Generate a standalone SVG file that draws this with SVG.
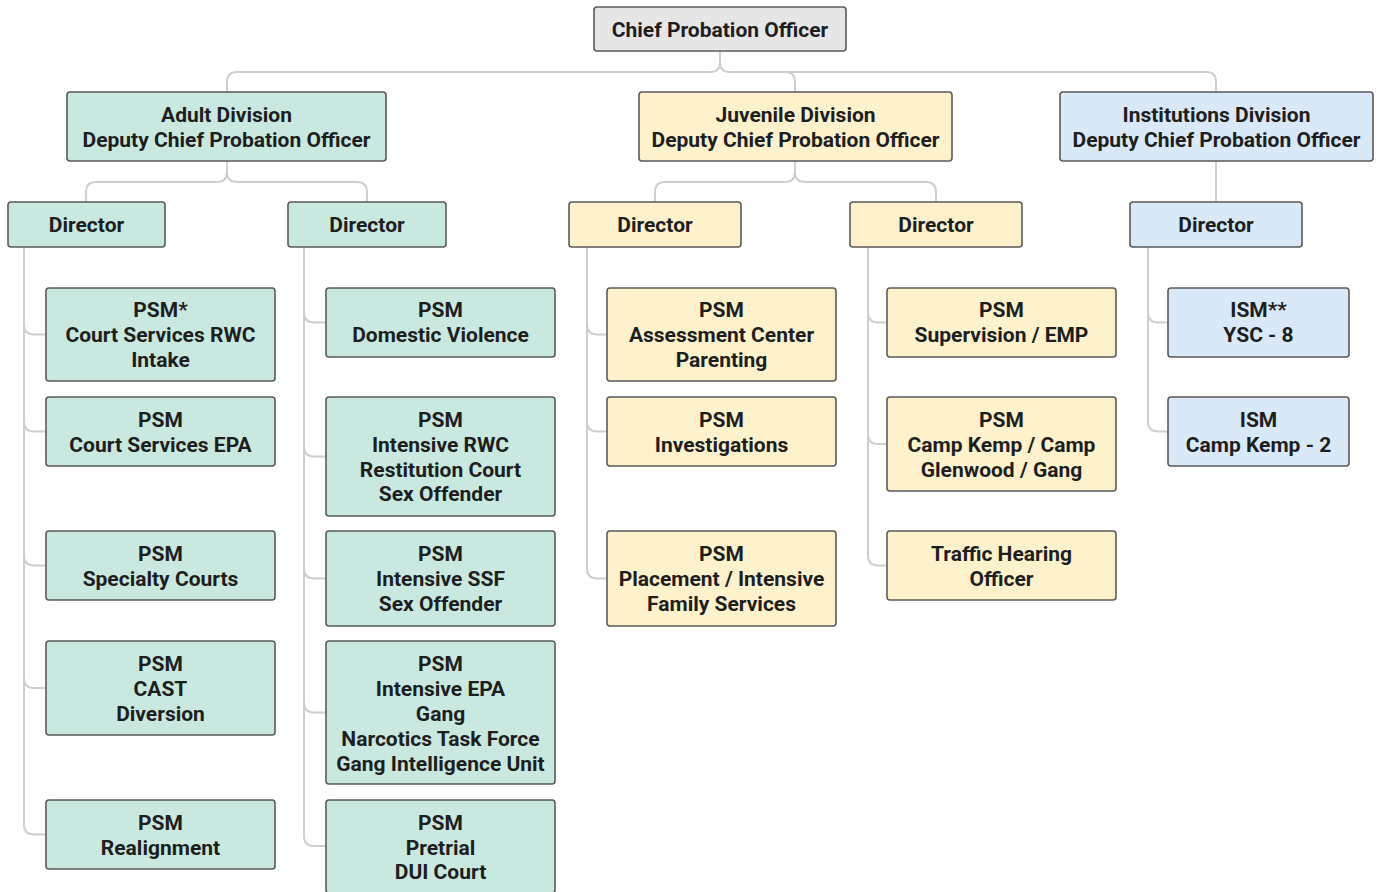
<svg xmlns="http://www.w3.org/2000/svg" width="1378" height="892" viewBox="0 0 1378 892">
<style>
.n rect{stroke:#5a5a5a;stroke-width:1.6}
.g rect{fill:#e6e6e6}
.a rect{fill:#c9e9e0}
.j rect{fill:#fdf2cc}
.i rect{fill:#d9e9f8}
text{font-family:Roboto,"Liberation Sans",sans-serif;font-weight:700;font-size:21px;fill:#1e1e1e;text-anchor:middle}
#connectors path{fill:none;stroke:#cfcfcf;stroke-width:2}
</style>
<rect width="1378" height="892" fill="#fff"/>
<g id="connectors">
<path d="M720 51V62Q720 72 710 72H237Q227 72 227 82V92"/>
<path d="M720 62Q720 72 730 72H1206Q1216 72 1216 82V92"/>
<path d="M785 72Q795 72 795 82V92"/>
<path d="M227 161V172Q227 182 217 182H96Q86 182 86 192V202"/>
<path d="M227 172Q227 182 237 182H357Q367 182 367 192V202"/>
<path d="M795 161V172Q795 182 785 182H665Q655 182 655 192V202"/>
<path d="M795 172Q795 182 805 182H926Q936 182 936 192V202"/>
<path d="M1216 161V202"/>
<path d="M24 247V824.5Q24 834.5 34 834.5H46"/>
<path d="M24 324.5Q24 334.5 34 334.5H46M24 421.5Q24 431.5 34 431.5H46M24 555.5Q24 565.5 34 565.5H46M24 678Q24 688 34 688H46"/>
<path d="M304 247V836Q304 846 314 846H326"/>
<path d="M304 312.5Q304 322.5 314 322.5H326M304 446.5Q304 456.5 314 456.5H326M304 568.5Q304 578.5 314 578.5H326M304 702.5Q304 712.5 314 712.5H326"/>
<path d="M587 247V568.5Q587 578.5 597 578.5H607"/>
<path d="M587 324.5Q587 334.5 597 334.5H607M587 421.5Q587 431.5 597 431.5H607"/>
<path d="M868 247V555.5Q868 565.5 878 565.5H887"/>
<path d="M868 312.5Q868 322.5 878 322.5H887M868 434Q868 444 878 444H887"/>
<path d="M1148 247V421.5Q1148 431.5 1158 431.5H1168"/>
<path d="M1148 312.5Q1148 322.5 1158 322.5H1168"/>
</g>
<g id="chief" class="n g"><rect x="594" y="7" width="252" height="44" rx="3"/><text x="720" y="36.5">Chief Probation Officer</text></g>
<g id="adult-div" class="n a"><rect x="67" y="92" width="319" height="69" rx="3"/><text x="226.5" y="121.5">Adult Division</text><text x="226.5" y="146.5">Deputy Chief Probation Officer</text></g>
<g id="juv-div" class="n j"><rect x="639" y="92" width="313" height="69" rx="3"/><text x="795.5" y="121.5">Juvenile Division</text><text x="795.5" y="146.5">Deputy Chief Probation Officer</text></g>
<g id="inst-div" class="n i"><rect x="1060" y="92" width="313" height="69" rx="3"/><text x="1216.5" y="121.5">Institutions Division</text><text x="1216.5" y="146.5">Deputy Chief Probation Officer</text></g>
<g id="adult-dir1" class="n a"><rect x="8" y="202" width="157" height="45" rx="3"/><text x="86.5" y="231.5">Director</text></g>
<g id="adult-dir2" class="n a"><rect x="288" y="202" width="158" height="45" rx="3"/><text x="367" y="231.5">Director</text></g>
<g id="juv-dir1" class="n j"><rect x="569" y="202" width="172" height="45" rx="3"/><text x="655" y="231.5">Director</text></g>
<g id="juv-dir2" class="n j"><rect x="850" y="202" width="172" height="45" rx="3"/><text x="936" y="231.5">Director</text></g>
<g id="inst-dir" class="n i"><rect x="1130" y="202" width="172" height="45" rx="3"/><text x="1216" y="231.5">Director</text></g>
<g id="a1-1" class="n a"><rect x="46" y="288" width="229" height="93" rx="3"/><text x="160.5" y="316.5">PSM*</text><text x="160.5" y="341.5">Court Services RWC</text><text x="160.5" y="366.5">Intake</text></g>
<g id="a1-2" class="n a"><rect x="46" y="397" width="229" height="69" rx="3"/><text x="160.5" y="426.5">PSM</text><text x="160.5" y="451.5">Court Services EPA</text></g>
<g id="a1-3" class="n a"><rect x="46" y="531" width="229" height="69" rx="3"/><text x="160.5" y="560.5">PSM</text><text x="160.5" y="585.5">Specialty Courts</text></g>
<g id="a1-4" class="n a"><rect x="46" y="641" width="229" height="94" rx="3"/><text x="160.5" y="670.5">PSM</text><text x="160.5" y="695.5">CAST</text><text x="160.5" y="720.5">Diversion</text></g>
<g id="a1-5" class="n a"><rect x="46" y="800" width="229" height="69" rx="3"/><text x="160.5" y="829.5">PSM</text><text x="160.5" y="854.5">Realignment</text></g>
<g id="a2-1" class="n a"><rect x="326" y="288" width="229" height="69" rx="3"/><text x="440.5" y="316.5">PSM</text><text x="440.5" y="341.5">Domestic Violence</text></g>
<g id="a2-2" class="n a"><rect x="326" y="397" width="229" height="119" rx="3"/><text x="440.5" y="426.5">PSM</text><text x="440.5" y="451.5">Intensive RWC</text><text x="440.5" y="476.5">Restitution Court</text><text x="440.5" y="500.5">Sex Offender</text></g>
<g id="a2-3" class="n a"><rect x="326" y="531" width="229" height="95" rx="3"/><text x="440.5" y="560.5">PSM</text><text x="440.5" y="585.5">Intensive SSF</text><text x="440.5" y="610.5">Sex Offender</text></g>
<g id="a2-4" class="n a"><rect x="326" y="641" width="229" height="143" rx="3"/><text x="440.5" y="670.5">PSM</text><text x="440.5" y="695.5">Intensive EPA</text><text x="440.5" y="720.5">Gang</text><text x="440.5" y="745.5">Narcotics Task Force</text><text x="440.5" y="770.5">Gang Intelligence Unit</text></g>
<g id="a2-5" class="n a"><rect x="326" y="800" width="229" height="93" rx="3"/><text x="440.5" y="829.5">PSM</text><text x="440.5" y="854.5">Pretrial</text><text x="440.5" y="878.5">DUI Court</text></g>
<g id="j1-1" class="n j"><rect x="607" y="288" width="229" height="93" rx="3"/><text x="721.5" y="316.5">PSM</text><text x="721.5" y="341.5">Assessment Center</text><text x="721.5" y="366.5">Parenting</text></g>
<g id="j1-2" class="n j"><rect x="607" y="397" width="229" height="69" rx="3"/><text x="721.5" y="426.5">PSM</text><text x="721.5" y="451.5">Investigations</text></g>
<g id="j1-3" class="n j"><rect x="607" y="531" width="229" height="95" rx="3"/><text x="721.5" y="560.5">PSM</text><text x="721.5" y="585.5">Placement / Intensive</text><text x="721.5" y="610.5">Family Services</text></g>
<g id="j2-1" class="n j"><rect x="887" y="288" width="229" height="69" rx="3"/><text x="1001.5" y="316.5">PSM</text><text x="1001.5" y="341.5">Supervision / EMP</text></g>
<g id="j2-2" class="n j"><rect x="887" y="397" width="229" height="94" rx="3"/><text x="1001.5" y="426.5">PSM</text><text x="1001.5" y="451.5">Camp Kemp / Camp</text><text x="1001.5" y="476.5">Glenwood / Gang</text></g>
<g id="j2-3" class="n j"><rect x="887" y="531" width="229" height="69" rx="3"/><text x="1001.5" y="560.5">Traffic Hearing</text><text x="1001.5" y="585.5">Officer</text></g>
<g id="i-1" class="n i"><rect x="1168" y="288" width="181" height="69" rx="3"/><text x="1258.5" y="316.5">ISM**</text><text x="1258.5" y="341.5">YSC - 8</text></g>
<g id="i-2" class="n i"><rect x="1168" y="397" width="181" height="69" rx="3"/><text x="1258.5" y="426.5">ISM</text><text x="1258.5" y="451.5">Camp Kemp - 2</text></g>
</svg>
